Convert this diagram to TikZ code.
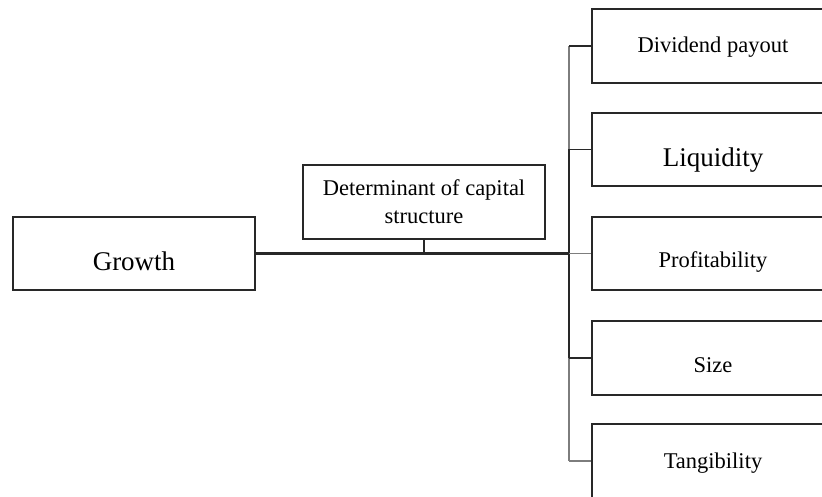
\documentclass[tikz,border=0pt]{standalone}
\usepackage{fontspec}
\setmainfont{Liberation Serif}
\usepackage{tikz}
\usepackage{xcolor}
\usetikzlibrary{positioning, calc}
\definecolor{cLine}{RGB}{40,40,40}
\definecolor{cGrey}{RGB}{125,125,125}
\tikzset{
	factor/.style ={rectangle, draw=cLine, line width=1.3pt, inner sep=0pt, minimum width=242pt, minimum height=73pt, align=center, font=\fontsize{22.5}{28}\selectfont},
	bigtxt/.style ={font=\fontsize{27}{32}\selectfont},
	txt/.style    ={text height=#1, text depth=0pt},
	trunk/.style  ={line width=2.8pt, cLine},
	branch/.style ={line width=1.4pt, cLine},
	greybr/.style ={line width=1.8pt, cGrey},
}

\begin{document}
\begin{tikzpicture}[x=1pt, y=-1pt]
			\clip (0,0) rectangle (822,497);
			% left side
			\node[factor, bigtxt, txt=33pt] (growth) at (134,253.5) {Growth};
			\node[factor, minimum height=74pt] (det) at (424,202) {Determinant of capital\\structure};
			% determinants on the right
			\node[factor, minimum height=74pt, txt=14pt] (div) at (713,46) {Dividend payout};
			\node[factor, bigtxt, txt=34pt] (liq) at (713,149.5) {Liquidity};
			\node[factor, txt=29pt] (prof) at (713,253.5) {Profitability};
			\node[factor, minimum height=74pt, txt=28pt] (size) at (713,358) {Size};
			\node[factor, minimum height=74pt, txt=14pt] (tang) at (713,461) {Tangibility};
			\coordinate (bus) at (569,0);
			% connectors
			\draw[trunk] (growth.east) -- (bus |- growth.east);
			\draw[branch] (det.south) -- (det.south |- growth.east);
			\draw[greybr] (bus |- div.west) -- (bus |- liq.west);
			\draw[trunk, line width=2.2pt] (bus |- liq.west) -- (bus |- size.west);
			\draw[greybr] (bus |- size.west) -- (bus |- tang.west);
			\draw[branch] (bus |- div.west) -- (div.west);
			\draw[branch] (bus |- liq.west) -- (liq.west);
			\draw[greybr, line width=1.4pt] (bus |- prof.west) -- (prof.west);
			\draw[branch] (bus |- size.west) -- (size.west);
			\draw[greybr] (bus |- tang.west) -- (tang.west);
		\end{tikzpicture}
\end{document}
